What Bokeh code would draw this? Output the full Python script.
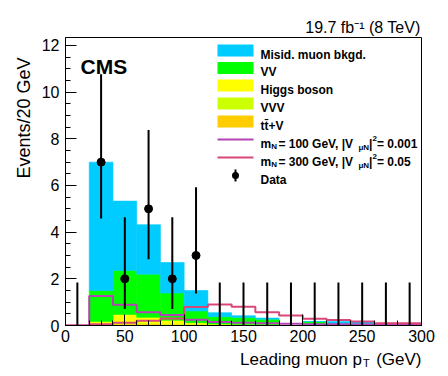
import math
from bokeh.plotting import figure
from bokeh.models import (ColumnDataSource, Label, BoxAnnotation, SingleIntervalTicker, Range1d)
from bokeh.embed import file_html
from bokeh.resources import INLINE

# ---------------- data ----------------
bin_left = [0, 20, 40, 60, 80, 100, 120, 140, 160, 180, 200, 220, 240, 260, 280]
bin_width = 20
ttv   = [0, 0.04, 0.06, 0.07, 0.05, 0.04, 0.02, 0.01, 0.01, 0, 0, 0, 0, 0, 0]
vvv   = [0, 0.03, 0.04, 0.04, 0.03, 0.02, 0.01, 0.01, 0.00, 0, 0, 0, 0, 0, 0]
higgs = [0, 0.10, 0.37, 0.24, 0.14, 0.06, 0.03, 0.02, 0.02, 0, 0, 0, 0, 0, 0]
vv    = [0, 1.33, 1.89, 1.85, 1.17, 0.50, 0.32, 0.30, 0.24, 0, 0.17, 0, 0, 0, 0]
misid = [0, 5.50, 2.97, 2.12, 1.31, 0.88, 0.17, 0.08, 0.05, 0, 0, 0.17, 0.17, 0, 0]
sig_m100 = [0, 1.26, 0.89, 0.57, 0.45, 0.25, 0.15, 0.12, 0.10, 0.07, 0.05, 0.05, 0.04, 0.03, 0.03]
sig_m300 = [0, 0.05, 0.12, 0.20, 0.30, 0.79, 0.90, 0.80, 0.57, 0.43, 0.29, 0.24, 0.17, 0.10, 0.10]
data_n  = [0, 7, 2, 5, 2, 3, 0, 0, 0, 0, 0, 0, 0, 0, 0]
data_lo = [0, 4.58, 0.71, 2.84, 0.71, 1.37, 0, 0, 0, 0, 0, 0, 0, 0, 0]
data_hi = [1.84, 10.77, 4.64, 8.38, 4.64, 5.92, 1.84, 1.84, 1.84, 1.84, 1.84, 1.84, 1.84, 1.84, 1.84]
x_ticks_step = 50
y_ticks_step = 2

names = ["ttv", "vvv", "higgs", "vv", "misid"]
colors = ["#ffcc00", "#ccff00", "#ffff00", "#00ff00", "#00ccff"]
c_m100 = "#b444b4"
c_m300 = "#d9467a"

FONT = "Liberation Sans"

centers = [b + bin_width / 2 for b in bin_left]
src = ColumnDataSource(dict(x=centers, ttv=ttv, vvv=vvv, higgs=higgs, vv=vv, misid=misid))

# page geometry (frame edges in page pixels)
W, H = 440, 368
FL, FR, FT, FB = 65, 421, 37, 325

p = figure(width=W, height=H, output_backend="svg", toolbar_location=None,
           x_range=Range1d(0, 300), y_range=Range1d(0, 12.34),
           min_border_left=FL, min_border_right=W - FR, min_border_top=FT,
           min_border_bottom=H - FB)
# luminosity label as the (right-aligned) title
p.title.text = "19.7 fb\u207b\u00b9 (8 TeV)"
p.title.align = "right"
p.title.text_font = FONT
p.title.text_font_size = "16px"
p.title.text_font_style = "normal"
p.title.text_color = "black"
p.title.standoff = 3
p.title.offset = 1

p.background_fill_color = "white"
p.border_fill_color = "white"
p.outline_line_color = "black"
p.outline_line_width = 1
p.xgrid.visible = False
p.ygrid.visible = False

p.vbar_stack(names, x="x", width=bin_width, color=colors, line_width=0.6, source=src)

# signal step lines
edges = bin_left + [bin_left[-1] + bin_width]
p.step(x=edges, y=sig_m100 + [sig_m100[-1]], mode="after", line_color=c_m100, line_width=2)
p.step(x=edges, y=sig_m300 + [sig_m300[-1]], mode="after", line_color=c_m300, line_width=2)

# data
p.segment(x0=centers, y0=data_lo, x1=centers, y1=data_hi, line_color="black", line_width=2)
dx = [c for c, n in zip(centers, data_n) if n > 0]
dy = [n for n in data_n if n > 0]
p.scatter(x=dx, y=dy, size=8, color="black")

# axes
for ax, step, nminor in ((p.xaxis, x_ticks_step, 5), (p.yaxis, y_ticks_step, 4)):
    ax.ticker = SingleIntervalTicker(interval=step, num_minor_ticks=nminor)
    ax.major_tick_in = 11
    ax.major_tick_out = 0
    ax.minor_tick_in = 5
    ax.minor_tick_out = 0
    ax.axis_line_color = "black"
    ax.major_tick_line_color = "black"
    ax.minor_tick_line_color = "black"
    ax.major_label_text_font = FONT
    ax.major_label_text_font_size = "16px"
    ax.major_label_text_color = "black"
p.xaxis.major_label_standoff = 4
p.yaxis.major_label_standoff = 6

# ---------------- text helpers ----------------
# inside the frame: "screen" units are relative to the frame's bottom-left corner
def fx(xp):
    return xp - FL

def fy(yp):
    return FB - yp

def lab(x, y, text, size, align="left", baseline="alphabetic", bold=False, angle=0):
    p.add_layout(Label(x=fx(x), y=fy(y), x_units="screen", y_units="screen", text=text,
                       text_font=FONT, text_font_size=f"{size}px", text_align=align,
                       text_baseline=baseline, text_font_style="bold" if bold else "normal",
                       text_color="black", angle=angle))

# outside the frame: canvas units, placed in a side panel so that they are
# not clipped to the frame
def clab(x, y, text, size, side, align="left", baseline="alphabetic", bold=False, angle=0):
    p.add_layout(Label(x=x, y=y, x_units="canvas", y_units="canvas", text=text,
                       text_font=FONT, text_font_size=f"{size}px", text_align=align,
                       text_baseline=baseline, text_font_style="bold" if bold else "normal",
                       text_color="black", angle=angle), side)

# x axis title (subscript T as its own small label)
clab(421, 359, "Leading muon p\u00a0\u00a0\u00a0(GeV)", 17, "below", align="right")
clab(362.5, 362, "T", 11, "right")
# y axis title
clab(23, 57, "Events/20 GeV", 18, "left", align="right", baseline="middle", angle=math.pi / 2)

# CMS
lab(80, 66, "CMS", 21, bold=True)

# ---------------- legend ----------------
row_y = [50, 67.5, 85, 103, 121, 139, 157, 175]
sw_l, sw_r = 217, 253
tx = 260
leg_fill = [("Misid. muon bkgd.", colors[4]), ("VV", colors[3]), ("Higgs boson", colors[2]),
            ("VVV", colors[1]), ("tt\u0304+V", colors[0])]

def box(l, r, t, b, c, radius=0):
    p.add_layout(BoxAnnotation(left=fx(l), right=fx(r), top=fy(t), bottom=fy(b),
                               left_units="screen", right_units="screen", top_units="screen",
                               bottom_units="screen", fill_color=c, fill_alpha=1,
                               line_color=None, border_radius=radius))

for (t, c), yc in zip(leg_fill, row_y[:5]):
    box(sw_l, sw_r, yc - 6, yc + 6, c)
    lab(tx, yc + 4, t, 12, bold=True)

mid_w = 12 * (0.278 + 0.584 + 0.278 + 0.556 * 3 + 0.278 + 0.778 + 0.556 + 0.667 + 0.278
              + 0.278 + 0.280 + 0.667)
for yc, c, mval, vval in ((row_y[5], c_m100, "100", "0.001"), (row_y[6], c_m300, "300", "0.05")):
    box(sw_l, sw_r, yc - 1, yc + 1, c)
    x = tx
    lab(x, yc + 4, "m", 12, bold=True); x += 10.7
    lab(x, yc + 7, "N", 8, bold=True); x += 7.2
    lab(x, yc + 4, f" = {mval} GeV, |V", 12, bold=True); x += mid_w
    lab(x + 1, yc + 8, "\u03bcN", 8, bold=True); x += 11.5
    lab(x, yc + 4, "|", 12, bold=True); x += 3.4
    lab(x, yc - 1, "2", 8, bold=True); x += 4.6
    lab(x, yc + 4, f" = {vval}", 12, bold=True)

yc = row_y[7]
box(234, 236, yc - 6, yc + 6, "black")
box(231.5, 238.5, yc - 3.5, yc + 3.5, "black", radius=4)
lab(tx, yc + 4, "Data", 12, bold=True)

open("out.html", "w").write(file_html(p, INLINE))
